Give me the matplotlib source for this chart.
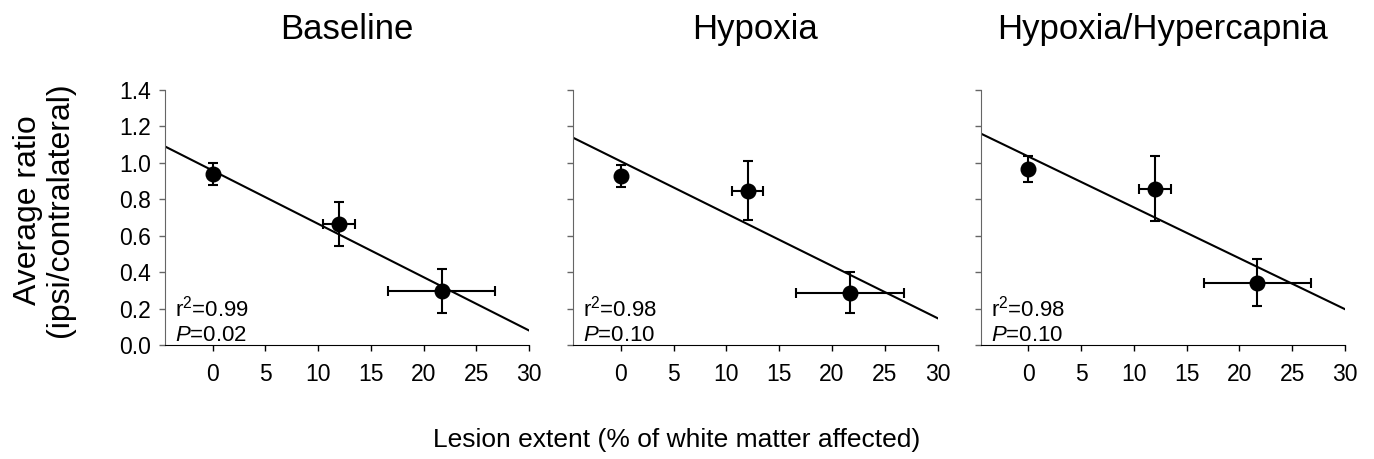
import matplotlib
matplotlib.use("Agg")
import matplotlib.pyplot as plt
import numpy as np

plt.rcParams['font.family'] = ['Liberation Sans', 'DejaVu Sans']
plt.rcParams['mathtext.fontset'] = 'custom'
plt.rcParams['mathtext.rm'] = 'Liberation Sans'
plt.rcParams['mathtext.it'] = 'Liberation Sans:italic'

# ---- data ----
titles = ["Baseline", "Hypoxia", "Hypoxia/Hypercapnia"]
lesion_x = [0, 12, 21.7]
lesion_xerr = [0, 1.5, 5.1]

ratio_baseline = [0.938, 0.665, 0.295]
ratio_hypoxia = [0.929, 0.848, 0.288]
ratio_hyphyp = [0.967, 0.859, 0.343]

err_baseline = [0.06, 0.12, 0.12]
err_hypoxia = [0.06, 0.16, 0.11]
err_hyphyp = [0.07, 0.18, 0.13]

fit_intercept = [0.958, 1.008, 1.035]
fit_slope = [-0.0293, -0.0287, -0.02795]

r2_labels = ["0.99", "0.98", "0.98"]
p_labels = ["0.02", "0.10", "0.10"]

xticks = [0, 5, 10, 15, 20, 25, 30]
yticks = [0.0, 0.2, 0.4, 0.6, 0.8, 1.0, 1.2, 1.4]
xlim = (-4.5, 30)
ylim = (0.0, 1.4)

ratios = [ratio_baseline, ratio_hypoxia, ratio_hyphyp]
errs = [err_baseline, err_hypoxia, err_hyphyp]

fig = plt.figure(figsize=(13.74, 4.59), dpi=100)
lefts = [0.1201, 0.4173, 0.7138]
width = 0.2651
bottom = 0.2484
height = 0.5556

for i in range(3):
    ax = fig.add_axes([lefts[i], bottom, width, height])
    xs = np.array(xlim)
    ax.plot(xs, fit_intercept[i] + fit_slope[i] * xs, color='black', lw=1.5, zorder=2)
    ax.errorbar(lesion_x, ratios[i], yerr=errs[i], xerr=lesion_xerr,
                fmt='o', color='black', ms=10.5, elinewidth=1.5, capsize=3.5,
                capthick=1.5, zorder=3, clip_on=False)
    ax.set_xlim(*xlim)
    ax.set_ylim(*ylim)
    ax.set_xticks(xticks)
    ax.set_yticks(yticks)
    ax.spines['top'].set_visible(False)
    ax.spines['right'].set_visible(False)
    ax.spines['left'].set_color('#666666')
    ax.spines['bottom'].set_color('black')
    ax.tick_params(axis='x', direction='out', length=4, width=1, colors='black', labelsize=16.5, pad=9)
    ax.tick_params(axis='y', direction='out', length=4, width=1, color='#666666', labelsize=16.5, pad=6)
    ax.set_xticklabels([str(t) for t in xticks])
    if i == 0:
        ax.set_yticklabels([f"{t:.1f}" for t in yticks])
    else:
        ax.set_yticklabels([])
    ax.text(0.027, 0.141, r"r$^2$=" + r2_labels[i], transform=ax.transAxes,
            fontsize=16, va='center', ha='left')
    ax.text(0.027, 0.036, r"$\mathit{P}$=" + p_labels[i], transform=ax.transAxes,
            fontsize=16, va='center', ha='left')
    fig.text(lefts[i] + width / 2, 0.935, titles[i], fontsize=25, ha='center', va='center')

fig.text(0.032, 0.543, "Average ratio\n(ipsi/contralateral)", rotation=90,
         fontsize=23, ha='center', va='center', linespacing=1.05)
fig.text(0.4924, 0.041, "Lesion extent (% of white matter affected)",
         fontsize=19, ha='center', va='center')

fig.savefig("out.png", dpi=100)
